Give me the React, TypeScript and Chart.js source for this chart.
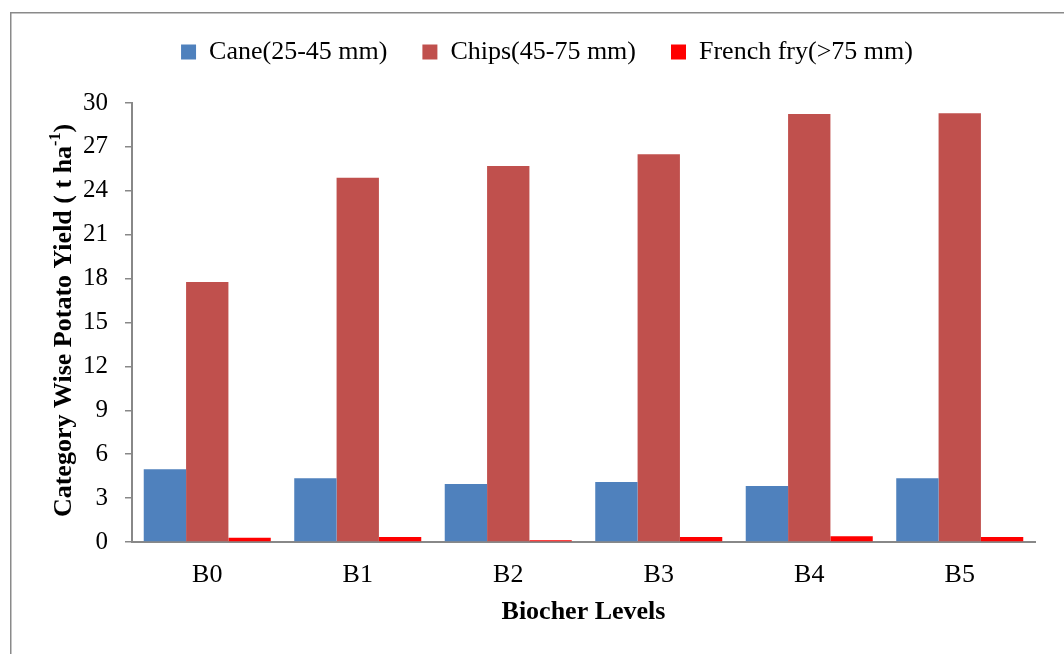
import React, { useEffect, useRef } from "react";
import { Chart, registerables } from "chart.js";

Chart.register(...registerables);

const categories = ["B0", "B1", "B2", "B3", "B4", "B5"];
const caneValues = [4.97, 4.35, 3.96, 4.1, 3.83, 4.35];
const chipsValues = [17.77, 24.9, 25.7, 26.5, 29.25, 29.3];
const frenchFryValues = [0.29, 0.34, 0.12, 0.34, 0.39, 0.34];
const seriesNames = ["Cane(25-45 mm)", "Chips(45-75 mm)", "French fry(>75 mm)"];
const yTicks = [0, 3, 6, 9, 12, 15, 18, 21, 24, 27, 30];
const xTitle = "Biocher Levels";
const yTitleMain = "Category Wise Potato Yield ( t ha";
const yTitleSup = "-1";
const yTitleTail = ")";

const FONT = "'Liberation Serif', 'Times New Roman', serif";

const framePlugin = {
  id: "frame",
  beforeDraw(chart: any) {
    const ctx = chart.ctx;
    ctx.save();
    ctx.strokeStyle = "#8a8a8a";
    ctx.lineWidth = 1.5;
    ctx.beginPath();
    ctx.moveTo(10.75, chart.height);
    ctx.lineTo(10.75, 12.75);
    ctx.lineTo(chart.width, 12.75);
    ctx.stroke();
    ctx.restore();
  },
};

const yTitlePlugin = {
  id: "yTitle",
  afterDraw(chart: any) {
    const ctx = chart.ctx;
    const area = chart.chartArea;
    const cy = (area.top + area.bottom) / 2 - 2;
    const cx = 64;
    ctx.save();
    ctx.translate(cx, cy);
    ctx.rotate(-Math.PI / 2);
    ctx.fillStyle = "#000";
    ctx.textBaseline = "middle";
    ctx.textAlign = "left";
    const mainFont = `bold 26px ${FONT}`;
    const supFont = `bold 16px ${FONT}`;
    ctx.font = mainFont;
    const w1 = ctx.measureText(yTitleMain).width;
    const w3 = ctx.measureText(yTitleTail).width;
    ctx.font = supFont;
    const w2 = ctx.measureText(yTitleSup).width;
    const total = w1 + w2 + w3;
    let x = -total / 2;
    ctx.font = mainFont;
    ctx.fillText(yTitleMain, x, 0);
    x += w1;
    ctx.font = supFont;
    ctx.fillText(yTitleSup, x, -8);
    x += w2;
    ctx.font = mainFont;
    ctx.fillText(yTitleTail, x, 0);
    ctx.restore();
  },
};

export default function App() {
  const canvasRef = useRef<HTMLCanvasElement | null>(null);

  useEffect(() => {
    document.body.style.overflow = "hidden";
    const canvas = canvasRef.current;
    if (!canvas) return;
    const chart = new Chart(canvas, {
      type: "bar",
      data: {
        labels: categories,
        datasets: [
          { label: seriesNames[0], data: caneValues, backgroundColor: "#4F81BD", xAxisID: "x", yAxisID: "y" },
          { label: seriesNames[1], data: chipsValues, backgroundColor: "#C0504D", xAxisID: "x", yAxisID: "y" },
          { label: seriesNames[2], data: frenchFryValues, backgroundColor: "#FF0000", xAxisID: "x", yAxisID: "y" },
        ],
      },
      options: {
        animation: false,
        responsive: true,
        maintainAspectRatio: false,
        datasets: {
          bar: { categoryPercentage: 0.844, barPercentage: 1.0 },
        },
        layout: { padding: { left: 30, right: 0, top: 4, bottom: 0 } },
        plugins: {
          tooltip: { enabled: false },
          legend: {
            display: true,
            position: "top",
            align: "center",
            labels: {
              boxWidth: 15,
              boxHeight: 15,
              padding: 35,
              color: "#000",
              font: { size: 26, family: FONT },
            },
          },
        },
        scales: {
          x: {
            type: "category",
            position: "bottom",
            grid: { display: false, drawTicks: false, drawOnChartArea: false },
            border: { display: true, color: "#888", width: 2 },
            ticks: { color: "#000", padding: 18, font: { size: 26, family: FONT } },
            title: {
              display: true,
              text: xTitle,
              color: "#000",
              font: { size: 26, family: FONT, weight: "bold" },
              padding: { top: 0, bottom: 26 },
            },
            afterFit(scale: any) {
              scale.height = 112;
            },
          },
          xTop: {
            type: "linear",
            position: "top",
            display: true,
            grid: { display: false, drawTicks: false },
            border: { display: false },
            ticks: { display: false },
            afterFit(scale: any) {
              scale.height = 28;
            },
          },
          y: {
            type: "linear",
            position: "left",
            min: 0,
            max: 30,
            afterBuildTicks(scale: any) {
              scale.ticks = yTicks.map((v) => ({ value: v }));
            },
            grid: { display: true, drawOnChartArea: false, drawTicks: true, tickLength: 7, color: "#888", lineWidth: 1.5 },
            border: { display: true, color: "#888", width: 2 },
            ticks: { color: "#000", padding: 17, font: { size: 25, family: FONT } },
            afterFit(scale: any) {
              scale.width = 102;
            },
          },
          yRight: {
            type: "linear",
            position: "right",
            display: true,
            grid: { display: false, drawTicks: false },
            border: { display: false },
            ticks: { display: false },
            afterFit(scale: any) {
              scale.width = 29;
            },
          },
        },
      },
      plugins: [framePlugin, yTitlePlugin],
    } as any);
    return () => chart.destroy();
  }, []);

  return (
    <div style={{ position: "fixed", left: 0, top: 0, width: 1064, height: 654, background: "#fff" }}>
      <canvas ref={canvasRef} />
    </div>
  );
}
